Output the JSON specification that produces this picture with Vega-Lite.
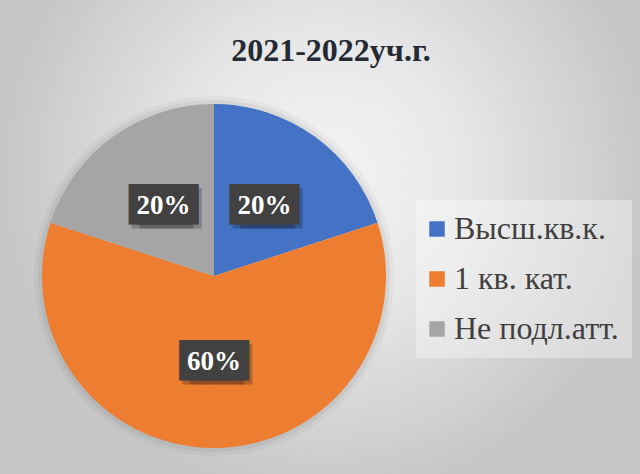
{
  "$schema": "https://vega.github.io/schema/vega-lite/v6.json",
  "autosize": {"type": "none"},
  "width": 408,
  "height": 344,
  "padding": {"left": 10, "top": 104, "right": 222, "bottom": 26},
  "background": "#d4d4d4",
  "title": {
    "text": "2021-2022уч.г.",
    "font": "Liberation Serif",
    "fontSize": 32,
    "fontWeight": "bold",
    "color": "#232a34",
    "anchor": "middle",
    "frame": "group",
    "dx": 117,
    "offset": -302
  },
  "data": {
    "values": [
      {"cat": "Высш.кв.к.", "value": 20, "label": "20%", "i": 1},
      {"cat": "1 кв. кат.", "value": 60, "label": "60%", "i": 2},
      {"cat": "Не подл.атт.", "value": 20, "label": "20%", "i": 3}
    ]
  },
  "layer": [
    {
      "data": {"values": [{"bg": 1}]},
      "mark": {
        "type": "arc",
        "theta": 0,
        "theta2": 6.2832,
        "outerRadius": 510,
        "fill": {
          "gradient": "radial",
          "x1": 0.61, "y1": 0.4, "r1": 0,
          "x2": 0.61, "y2": 0.4, "r2": 0.32,
          "stops": [
            {"offset": 0, "color": "#f4f4f4"},
            {"offset": 0.4, "color": "#e8e8e8"},
            {"offset": 1, "color": "#c6c6c6"}
          ]
        }
      },
      "encoding": {}
    },
    {
      "data": {"values": [{"bg": 1}]},
      "mark": {"type": "arc", "theta": 0, "theta2": 6.2832, "outerRadius": 180, "fill": "#000000", "opacity": 0.03},
      "encoding": {}
    },
    {
      "data": {"values": [{"bg": 1}]},
      "mark": {"type": "arc", "theta": 0, "theta2": 6.2832, "outerRadius": 176, "fill": "#000000", "opacity": 0.05},
      "encoding": {}
    },
    {
      "mark": {"type": "arc", "outerRadius": 172},
      "encoding": {
        "theta": {"field": "value", "type": "quantitative", "stack": true},
        "order": {"field": "i", "type": "quantitative"},
        "color": {
          "field": "cat",
          "type": "nominal",
          "scale": {
            "domain": ["Высш.кв.к.", "1 кв. кат.", "Не подл.атт."],
            "range": ["#4472C4", "#ED7D31", "#A5A5A5"]
          },
          "legend": {
            "title": null,
            "orient": "none",
            "legendX": 406,
            "legendY": 96,
            "fillColor": "rgba(255,255,255,0.35)",
            "padding": 13,
            "symbolType": "square",
            "symbolSize": 240,
            "symbolStrokeWidth": 0,
            "symbolOffset": -8,
            "labelFont": "Liberation Serif",
            "labelFontSize": 32,
            "labelColor": "#404040",
            "labelOffset": 1,
            "labelLimit": 300,
            "rowPadding": 18
          }
        }
      }
    },
    {
      "mark": {"type": "text", "radius": 86, "font": "DejaVu Sans Mono", "fontSize": 34, "align": "center", "baseline": "middle", "dx": -1, "dy": 4, "color": "#000000", "opacity": 0.22},
      "encoding": {
        "theta": {"field": "value", "type": "quantitative", "stack": true},
        "order": {"field": "i", "type": "quantitative"},
        "text": {"value": "███"}
      }
    },
    {
      "mark": {"type": "text", "radius": 86, "font": "DejaVu Sans Mono", "fontSize": 34, "align": "center", "baseline": "middle", "dx": 7, "dy": 4, "color": "#000000", "opacity": 0.22},
      "encoding": {
        "theta": {"field": "value", "type": "quantitative", "stack": true},
        "order": {"field": "i", "type": "quantitative"},
        "text": {"value": "███"}
      }
    },
    {
      "mark": {"type": "text", "radius": 86, "font": "DejaVu Sans Mono", "fontSize": 34, "align": "center", "baseline": "middle", "dx": -4, "color": "#414141"},
      "encoding": {
        "theta": {"field": "value", "type": "quantitative", "stack": true},
        "order": {"field": "i", "type": "quantitative"},
        "text": {"value": "███"}
      }
    },
    {
      "mark": {"type": "text", "radius": 86, "font": "DejaVu Sans Mono", "fontSize": 34, "align": "center", "baseline": "middle", "dx": 4, "color": "#414141"},
      "encoding": {
        "theta": {"field": "value", "type": "quantitative", "stack": true},
        "order": {"field": "i", "type": "quantitative"},
        "text": {"value": "███"}
      }
    },
    {
      "mark": {"type": "text", "radius": 86, "font": "Liberation Serif", "fontSize": 27, "fontWeight": "bold", "align": "center", "baseline": "middle", "color": "#ffffff"},
      "encoding": {
        "theta": {"field": "value", "type": "quantitative", "stack": true},
        "order": {"field": "i", "type": "quantitative"},
        "text": {"field": "label", "type": "nominal"}
      }
    }
  ]
}
